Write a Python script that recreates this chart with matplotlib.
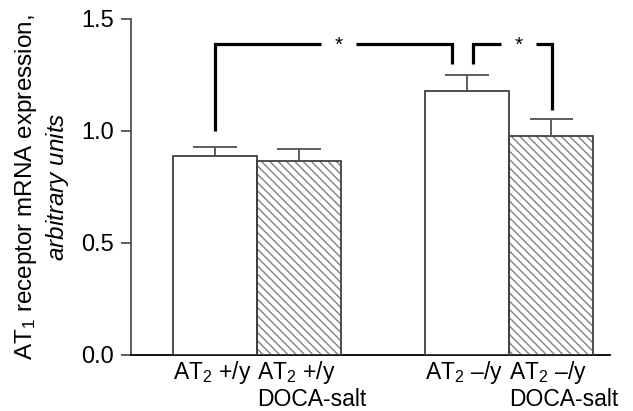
import matplotlib.pyplot as plt

plt.rcParams['font.family'] = ['Liberation Sans', 'DejaVu Sans']
plt.rcParams['mathtext.fontset'] = 'custom'
plt.rcParams['mathtext.rm'] = 'Liberation Sans'
plt.rcParams['mathtext.it'] = 'Liberation Sans:italic'
plt.rcParams['hatch.linewidth'] = 1.0

# bar data
groups = ["AT$_2$ +/y", "AT$_2$ +/y\nDOCA-salt", "AT$_2$ \u2013/y", "AT$_2$ \u2013/y\nDOCA-salt"]
positions = [0, 1, 3, 4]
means = [0.888, 0.867, 1.18, 0.979]
errors = [0.042, 0.053, 0.07, 0.073]
hatched = [False, True, False, True]

# significance brackets: (x_left, y_left, x_right, y_right, y_top, x_star)
brackets = [
    (0.0, 1.00, 2.82, 1.30, 1.388, 1.47),
    (3.07, 1.30, 4.01, 1.094, 1.388, 3.61),
]
star_gap = 0.21

fig = plt.figure(figsize=(6.33, 4.11), dpi=100)
ax = fig.add_axes([0.207, 0.1363, 0.757, 0.8175])

for x, m, h in zip(positions, means, hatched):
    if h:
        ax.bar(x, m, width=1.0, color="white", edgecolor="#808080",
               hatch="\\\\\\\\", linewidth=0, zorder=2)
    ax.bar(x, m, width=1.0, color="none", edgecolor="#404040",
           linewidth=1.3, zorder=3)

tops = [m + e for m, e in zip(means, errors)]
ax.vlines(positions, means, tops, color="#505050", lw=1.3, zorder=4)
ax.hlines(tops, [p - 0.26 for p in positions], [p + 0.26 for p in positions],
          color="#505050", lw=1.3, zorder=4)

for xl, yl, xr, yr, yt, xs in brackets:
    kw = dict(color="black", lw=2.3, solid_capstyle="butt", solid_joinstyle="miter")
    ax.plot([xl, xl, xs - star_gap], [yl, yt, yt], **kw)
    ax.plot([xs + star_gap, xr, xr], [yt, yt, yr], **kw)
    ax.text(xs, yt - 0.005, "*", ha="center", va="center", fontsize=15)

ax.set_xlim(-1.0, 4.7)
ax.set_ylim(0, 1.5)
ax.set_yticks([0, 0.5, 1.0, 1.5])
ax.set_yticklabels(["0.0", "0.5", "1.0", "1.5"])
ax.set_xticks([p - 0.5 for p in positions])
ax.set_xticklabels(groups, ha="left", va="top", linespacing=1.1)
ax.tick_params(axis="x", length=0, pad=3, labelsize=16.5)
ax.tick_params(axis="y", length=7, width=1.3, color="#505050", labelsize=17, pad=5)

for side in ["top", "right"]:
    ax.spines[side].set_visible(False)
ax.spines["left"].set_color("#505050")
ax.spines["left"].set_linewidth(1.3)
ax.spines["bottom"].set_color("black")
ax.spines["bottom"].set_linewidth(1.3)

ax.set_ylabel("AT$_1$ receptor mRNA expression,\n$\\it{arbitrary\\ units}$",
              fontsize=17.5, linespacing=1.25, labelpad=8)

fig.savefig("out.png", dpi=100)
